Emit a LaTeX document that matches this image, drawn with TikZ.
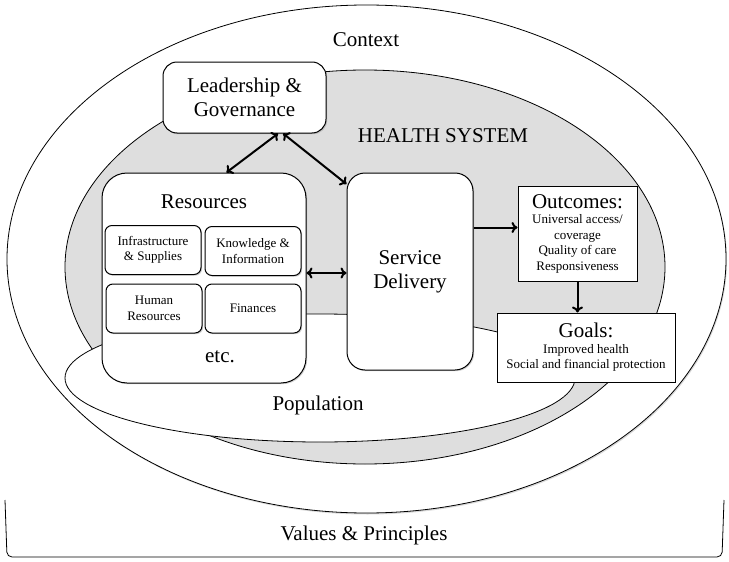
\documentclass[tikz,border=0pt]{standalone}
\usepackage{fontspec}
\setmainfont{Liberation Serif}
\usetikzlibrary{positioning,shadows,arrows.meta}
\newcommand{\bigtxt}{\fontsize{21}{24}\selectfont}
\newcommand{\smalltxt}{\fontsize{13}{15.5}\selectfont}
\tikzstyle{block} = [draw,fill=white,line width=1pt,align=center,inner sep=0pt,drop shadow={shadow xshift=1.2pt,shadow yshift=-1.2pt,opacity=.35}]
\tikzstyle{rblock} = [block,rounded corners=14pt,font=\bigtxt]
\tikzstyle{subblock} = [block,rounded corners=7pt,minimum width=96pt,minimum height=49pt,font=\smalltxt]
\tikzstyle{sblock} = [block,font=\smalltxt]
\tikzstyle{ring} = [draw,line width=0.8pt]
\tikzstyle{link} = [line width=2pt,{To[length=6pt,width=11pt]}-{To[length=6pt,width=11pt]}]
\tikzstyle{arr} = [line width=2pt,-{To[length=6pt,width=11pt]}]
\tikzstyle{title} = [font=\bigtxt,inner sep=2pt]
\pgfdeclarelayer{background}
\pgfsetlayers{background,main}

\begin{document}
\begin{tikzpicture}[x=1pt,y=-1pt]
\useasboundingbox (0,0) rectangle (729,562);

\node[title] (ctx) at (366,40) {Context};
\node[title] (hs)  at (443,136) {HEALTH SYSTEM};
\node[title] (pop) at (318,405) {Population};
\node[title] (vp)  at (364,535) {Values \& Principles};

\node[rblock,minimum width=163pt,minimum height=71pt] (lead) at (244.5,97.5) {Leadership \&\\Governance};
\node[rblock,rounded corners=25pt,minimum width=204pt,minimum height=210pt] (res) at (204,278) {};
\node[title,below=20pt of res.north] (restitle) {Resources};
\node[title] (etc) at (220,357) {etc.};
\node[subblock] (infra) at (153,250)   {Infrastructure\\\& Supplies};
\node[subblock] (know)  at (253,251)   {Knowledge \&\\Information};
\node[subblock] (human) at (154,308.5) {Human\\Resources};
\node[subblock] (fin)   at (253,308.5) {Finances};
\node[rblock,rounded corners=18pt,minimum width=126pt,minimum height=197pt] (serv) at (410,271.5) {Service\\Delivery};
\node[sblock,minimum width=119pt,minimum height=95pt] (out) at (577.5,233.5)
  {{\bigtxt Outcomes:}\\Universal access/\\coverage\\Quality of care\\Responsiveness};
\node[sblock,minimum width=178pt,minimum height=69pt] (goals) at (586,347.5)
  {{\bigtxt Goals:}\\Improved health\\Social and financial protection};

\draw[link] (lead.-47) -- (res.78);
\draw[link] (lead.-43) -- (serv.126);
\draw[link] ([yshift=5pt]res.east) -- ([yshift=5pt]res.east -| serv.west);
\draw[arr] ([yshift=6pt]out.west -| serv.east) -- ([yshift=6pt]out.west);
\draw[arr] (out.south) -- (out.south |- goals.north);

\begin{pgfonlayer}{background}
\draw[ring,fill=white,drop shadow={shadow xshift=1pt,shadow yshift=-1.5pt,opacity=.3}] (366.5,259) ellipse [x radius=359.5pt,y radius=254pt];
\draw[ring,fill=black!13] (365,267) ellipse [x radius=300pt,y radius=197pt];
\draw[ring,fill=white] (320,378) ellipse [x radius=255pt,y radius=64pt];
\draw[ring,rounded corners=5pt] (5,500) -- (7,557) -- (722,557) -- (724,500);
\end{pgfonlayer}
\end{tikzpicture}
\end{document}
